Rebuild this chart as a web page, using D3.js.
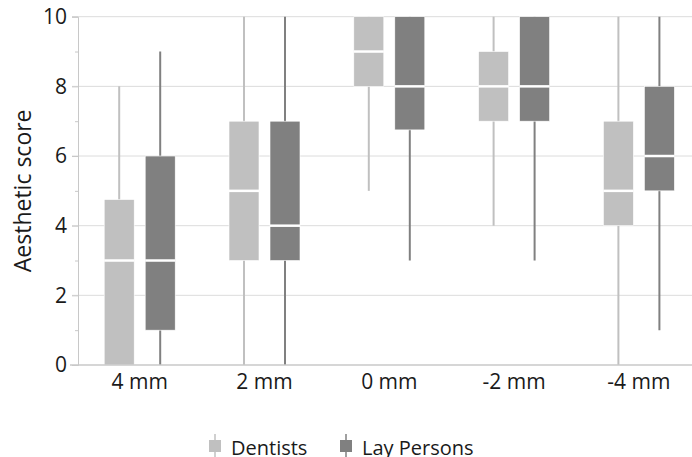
<!DOCTYPE html>
<html>
<head>
<meta charset="utf-8">
<script src="https://cdnjs.cloudflare.com/ajax/libs/d3/7.8.5/d3.min.js"></script>
<style>
  body { margin: 0; background: #fff; }
  svg { display: block; font-family: "Open Sans", sans-serif; }
</style>
</head>
<body>
<script>
// categories and series
var categories = ["4 mm", "2 mm", "0 mm", "-2 mm", "-4 mm"];
var seriesNames = ["Dentists", "Lay Persons"];
var seriesColors = ["#c0c0c0", "#808080"];

// box plot stats per category
var dentistsMin    = [0, 0, 5, 4, 0];
var dentistsQ1     = [0, 3, 8, 7, 4];
var dentistsMedian = [3, 5, 9, 8, 5];
var dentistsQ3     = [4.75, 7, 10, 9, 7];
var dentistsMax    = [8, 10, 10, 10, 10];

var layMin    = [0, 0, 3, 3, 1];
var layQ1     = [1, 3, 6.75, 7, 5];
var layMedian = [3, 4, 8, 8, 6];
var layQ3     = [6, 7, 10, 10, 8];
var layMax    = [9, 10, 10, 10, 10];

var yTicks = [0, 2, 4, 6, 8, 10];
var yMinorTicks = [1, 3, 5, 7, 9];

var width = 692, height = 457;
var margin = { left: 77.3, right: -9.3, top: 16.7, bottom: 92 };

var svg = d3.select("body").append("svg")
    .attr("width", width)
    .attr("height", height);

var x = d3.scaleBand()
    .domain(categories)
    .range([margin.left, width - margin.right]);

var y = d3.scaleLinear()
    .domain([0, 10])
    .range([height - margin.bottom, margin.top]);

var offsets = [-20.5, 20.5];
var boxW = 30;

// grid lines
svg.append("g").selectAll("line")
    .data(yTicks.filter(function (d) { return d > 0; }))
    .enter().append("line")
    .attr("x1", 72).attr("x2", width)
    .attr("y1", function (d) { return y(d); })
    .attr("y2", function (d) { return y(d); })
    .attr("stroke", "#dcdcdc")
    .attr("stroke-width", 1);

// y axis
var yAxis = d3.axisLeft(y).tickValues(yTicks).tickSize(6).tickPadding(5);
var gy = svg.append("g")
    .attr("transform", "translate(" + 78 + ",0)")
    .call(yAxis);
gy.select(".domain").attr("stroke", "#c8c8c8");
gy.selectAll(".tick line").attr("stroke", "#c8c8c8");
gy.selectAll(".tick text")
    .attr("font-size", 21)
    .attr("fill", "#1a1a1a")
    .attr("font-family", "Open Sans, sans-serif");

var yMinor = d3.axisLeft(y).tickValues(yMinorTicks).tickSize(3).tickFormat("");
var gym = svg.append("g")
    .attr("transform", "translate(" + 78 + ",0)")
    .call(yMinor);
gym.select(".domain").remove();
gym.selectAll(".tick line").attr("stroke", "#c8c8c8");

// x axis
var xAxis = d3.axisBottom(x).tickSize(0).tickPadding(9);
var gx = svg.append("g")
    .attr("transform", "translate(0," + y(0) + ")")
    .call(xAxis);
gx.select(".domain").remove();
gx.selectAll(".tick text")
    .attr("font-size", 21)
    .attr("fill", "#1a1a1a")
    .attr("font-family", "Open Sans, sans-serif");

// axis title
svg.append("text")
    .attr("transform", "translate(31," + ((y(0) + y(10)) / 2) + ") rotate(-90)")
    .attr("text-anchor", "middle")
    .attr("font-size", 23)
    .attr("fill", "#1a1a1a")
    .text("Aesthetic score");

// boxes
var seriesStats = [
    { mins: dentistsMin, q1: dentistsQ1, med: dentistsMedian, q3: dentistsQ3, maxs: dentistsMax },
    { mins: layMin, q1: layQ1, med: layMedian, q3: layQ3, maxs: layMax }
];

seriesStats.forEach(function (s, si) {
    var rows = categories.map(function (c, i) {
        return { cat: c, min: s.mins[i], q1: s.q1[i], med: s.med[i], q3: s.q3[i], max: s.maxs[i] };
    });
    var g = svg.append("g");
    var cx = function (d) { return x(d.cat) + x.bandwidth() / 2 + offsets[si]; };

    g.selectAll(".whisker").data(rows).enter().append("line")
        .attr("x1", cx).attr("x2", cx)
        .attr("y1", function (d) { return y(d.min); })
        .attr("y2", function (d) { return y(d.max); })
        .attr("stroke", seriesColors[si])
        .attr("stroke-width", 2);

    g.selectAll(".box").data(rows).enter().append("rect")
        .attr("x", function (d) { return cx(d) - boxW / 2; })
        .attr("width", boxW)
        .attr("y", function (d) { return y(d.q3); })
        .attr("height", function (d) { return y(d.q1) - y(d.q3); })
        .attr("fill", seriesColors[si])
        .attr("stroke", "#fff")
        .attr("stroke-width", 0.6);

    g.selectAll(".median").data(rows).enter().append("line")
        .attr("x1", function (d) { return cx(d) - boxW / 2; })
        .attr("x2", function (d) { return cx(d) + boxW / 2; })
        .attr("y1", function (d) { return y(d.med); })
        .attr("y2", function (d) { return y(d.med); })
        .attr("stroke", "#fff")
        .attr("stroke-width", 2.5);
});

// x axis line on top
svg.append("line")
    .attr("x1", 70).attr("x2", width)
    .attr("y1", y(0)).attr("y2", y(0))
    .attr("stroke", "#c8c8c8")
    .attr("stroke-width", 1.5);

// legend
var legendX = [215, 346];
var legend = svg.append("g").selectAll("g")
    .data(seriesNames)
    .enter().append("g")
    .attr("transform", function (d, i) { return "translate(" + legendX[i] + ",446)"; });

legend.append("line")
    .attr("y1", -12).attr("y2", 12)
    .attr("stroke", function (d, i) { return seriesColors[i]; })
    .attr("stroke-width", 1.5);
legend.append("rect")
    .attr("x", -6).attr("y", -6).attr("width", 12).attr("height", 12)
    .attr("fill", function (d, i) { return seriesColors[i]; });
legend.append("text")
    .attr("x", 16).attr("y", 9)
    .attr("font-size", 20)
    .attr("fill", "#1a1a1a")
    .text(function (d) { return d; });
</script>
</body>
</html>
